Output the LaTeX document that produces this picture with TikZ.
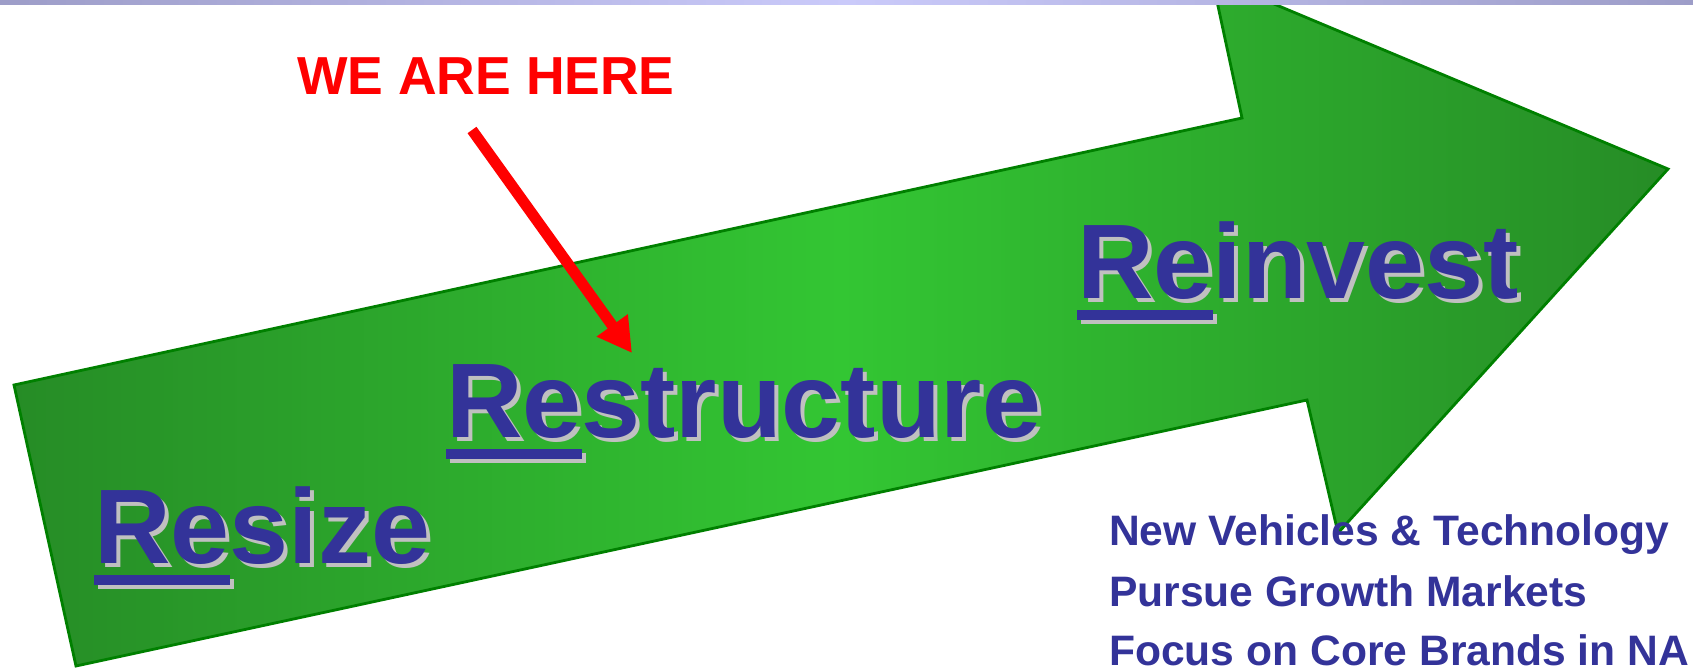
\documentclass[tikz,border=0pt]{standalone}
\usepackage{fontspec}
\setmainfont{Liberation Sans}
\usetikzlibrary{arrows.meta}
\definecolor{txtblue}{RGB}{51,51,153}
\definecolor{shgray}{RGB}{192,192,192}
\definecolor{gdark}{RGB}{38,140,38}
\definecolor{gbright}{RGB}{51,198,51}
\definecolor{gedge}{RGB}{0,128,0}
\definecolor{barside}{RGB}{157,157,200}
\definecolor{barmid}{RGB}{202,202,250}
\newsavebox\rebox
\newcommand{\ReWord}[1]{\sbox\rebox{Re}\rlap{\rule[-22pt]{\wd\rebox}{10pt}}Re#1}
\begin{document}
\begin{tikzpicture}[x=1pt,y=-1pt,
  bigword/.style={anchor=base west, inner sep=0pt, font=\fontsize{106}{106}\selectfont\bfseries},
  shadowword/.style={bigword, text=shgray},
  mainword/.style={bigword, text=txtblue},
  herelabel/.style={anchor=base west, inner sep=0pt, text=red, font=\fontsize{53.5}{53.5}\selectfont\bfseries},
  bullet/.style={anchor=base west, inner sep=0pt, text=txtblue, font=\fontsize{42.6}{42.6}\selectfont\bfseries},
  bigarrow/.style={draw=gedge, line width=2.8pt, line join=miter, left color=gdark, right color=gdark, middle color=gbright},
  redarrow/.style={draw=red, line width=11pt, -{Triangle[length=34pt,width=36pt]}}]
\useasboundingbox (0,0) rectangle (1693,668);
\clip (0,0) rectangle (1693,668);
% big green arrow
\path[bigarrow] (14,385) -- (1242,118) -- (1212,-22) -- (1668,169) -- (1338,533) -- (1307,400) -- (76,666) -- cycle;
% top bar
\shade[left color=barside, right color=barside, middle color=barmid] (0,0) rectangle (1693,5);
% words with shadows
\node[shadowword] (resizeS) at (98,567) {\ReWord{size}};
\node[mainword] (resize) at (94,563) {\ReWord{size}};
\node[shadowword] (restructS) at (450,441) {\ReWord{structure}};
\node[mainword] (restruct) at (446,437) {\ReWord{structure}};
\node[shadowword] (reinvestS) at (1081,302) {\ReWord{invest}};
\node[mainword] (reinvest) at (1077,298) {\ReWord{invest}};
% we are here
\node[herelabel] (here) at (297,95) {WE ARE HERE};
\coordinate (tail) at (472,130);
\coordinate (tip) at (632,353);
\draw[redarrow] (tail) -- (tip);
% bullet lines
\node[bullet] (b1) at (1109,545) {New Vehicles \& Technology};
\node[bullet] (b2) at (1109,606) {Pursue Growth Markets};
\node[bullet] (b3) at (1109,665) {Focus on Core Brands in NA};
\end{tikzpicture}
\end{document}
